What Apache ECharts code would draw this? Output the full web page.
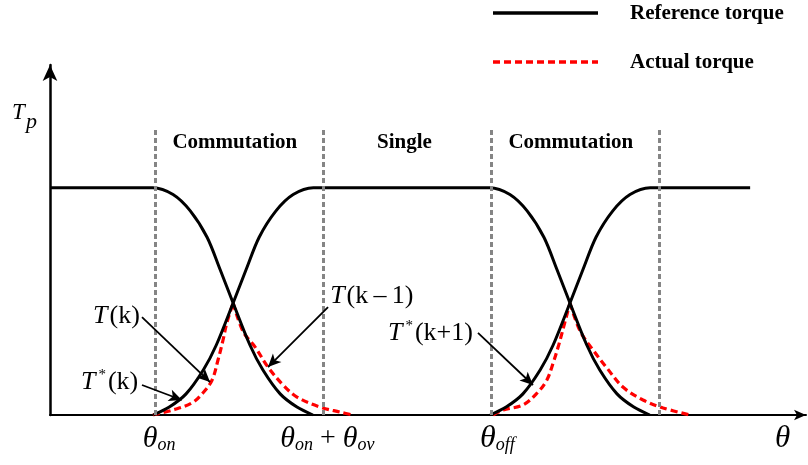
<!DOCTYPE html>
<html>
<head>
<meta charset="utf-8">
<script src="https://cdn.jsdelivr.net/npm/echarts@6/dist/echarts.min.js"></script>
<style>
  html, body { margin: 0; padding: 0; background: #ffffff; }
  #chart { width: 808px; height: 465px; }
</style>
</head>
<body>
<div id="chart"></div>
<script>
// Rotor angle in electrical degrees (x), phase torque normalised so that Tp = 1 (y).

// Reference torque of the outgoing phase T(k-1)
const refOutgoing = [
  [0, 1], [20, 1], [24.5, 1], [29.3, 0.97], [33.4, 0.898], [37.4, 0.782], [40.5, 0.64],
  [43.6, 0.493], [47.6, 0.308], [50.7, 0.198], [54.8, 0.093],
  [58.8, 0.035], [62.6, 0]
];
// Reference torque of the conducting phase T(k)
const refPhase = [
  [24.6, 0], [28.4, 0.035], [32.4, 0.093], [36.5, 0.198], [39.6, 0.308],
  [43.6, 0.493], [46.7, 0.64], [49.8, 0.782], [53.8, 0.898], [57.9, 0.97], [62.7, 1],
  [67, 1], [100, 1], [104.7, 1], [109.5, 0.97], [113.6, 0.898], [117.6, 0.782],
  [120.7, 0.64], [123.8, 0.493], [127.8, 0.308], [130.9, 0.198],
  [135.0, 0.093], [139.0, 0.035], [142.8, 0]
];
// Reference torque of the incoming phase T(k+1)
const refIncoming = [
  [104.8, 0], [108.6, 0.035], [112.6, 0.093], [116.7, 0.198], [119.8, 0.308],
  [123.8, 0.493], [126.9, 0.64], [130.0, 0.782], [134.0, 0.898],
  [138.1, 0.97], [142.9, 1], [147, 1], [166.7, 1]
];
// Actual torque during the first commutation: T*(k) build-up, then the T(k-1) tail
const actualRiseA = [
  [24.5, 0], [29.3, 0.022], [33.8, 0.053], [36.4, 0.097], [38.6, 0.154], [40.0, 0.242],
  [41.2, 0.33], [42.1, 0.405], [43.6, 0.493]
];
const actualFallA = [
  [43.6, 0.493], [46.0, 0.366], [48.8, 0.3], [51.9, 0.211], [55.5, 0.132], [58.8, 0.079],
  [64.3, 0.035], [69.0, 0.013], [72.1, 0]
];
// Actual torque during the second commutation: T*(k+1) build-up, then the T(k) tail
const actualRiseB = [
  [105.5, 0], [107.9, 0.022], [112.6, 0.044], [116.0, 0.097], [118.3, 0.154],
  [119.8, 0.229], [121.0, 0.3], [122.1, 0.374], [123.8, 0.493]
];
const actualFallB = [
  [123.8, 0.493], [126.2, 0.37], [129.3, 0.286], [132.6, 0.207], [136.4, 0.123],
  [141.2, 0.066], [146.0, 0.031], [152.4, 0]
];

// Region boundaries: θon, θon+θov, θoff, θoff+θov
const boundaryAngles = [25, 65, 105, 145];
const boundaryTop = 1.254;
const regionNames = ['Commutation', 'Single', 'Commutation'];
const regionCentres = [44, 84.4, 124];
const regionLevel = 1.197;

const legendNames = ['Reference torque', 'Actual torque'];

// Pointer arrows [from, to] and the labels they belong to
const pointers = [
  [[21.9, 0.431], [38.1, 0.145]],
  [[21.9, 0.132], [31.4, 0.066]],
  [[66.2, 0.475], [51.9, 0.211]],
  [[101.9, 0.361], [115.0, 0.132]]
];
const pointerLabels = [
  { text: '{i|T}{r|(k)}', at: [21.4, 0.436], align: 'right' },
  { text: '{i|T}{sup|*}{r|(k)}', at: [21.0, 0.145], align: 'right' },
  { text: '{i|T}{r|(k\u2009\u2013\u20091)}', at: [66.7, 0.524], align: 'left' },
  { text: '{i|T}{sup|*}{r|(k+1)}', at: [100.7, 0.361], align: 'right' }
];

// Angle labels under the axis: left edge of each label (in degrees)
const angleLabels = [
  { text: '{th|\u03b8}{sub|on}', left: 22.1, size: 30 },
  { text: '{th|\u03b8}{sub|on}{op| + }{th|\u03b8}{sub|ov}', left: 54.8, size: 30 },
  { text: '{th|\u03b8}{sub|off}', left: 102.4, size: 32 },
  { text: '{th|\u03b8}', left: 172.6, size: 31 }
];

const SERIF = '"Liberation Serif", "Times New Roman", serif';

const chart = echarts.init(document.getElementById('chart'), null, { renderer: 'canvas' });

function refSeries(data) {
  return {
    name: legendNames[0], type: 'line', data: data, smooth: 0.3, symbol: 'none',
    lineStyle: { color: '#000000', width: 3 }, itemStyle: { color: '#000000' },
    z: 4, silent: true
  };
}
function actualSeries(data) {
  return {
    name: legendNames[1], type: 'line', data: data, smooth: 0.35, symbol: 'none',
    lineStyle: { color: '#ff0000', width: 3.2, type: [7, 4] }, itemStyle: { color: '#ff0000' },
    z: 3, silent: true
  };
}

const option = {
  animation: false,
  backgroundColor: '#ffffff',
  grid: { left: 50, right: 2, top: 65, bottom: 50 },
  xAxis: {
    type: 'value', min: 0, max: 180,
    axisLine: {
      onZero: false, symbol: ['none', 'arrow'], symbolSize: [8, 12],
      lineStyle: { color: '#000000', width: 2 }
    },
    axisTick: { show: false }, axisLabel: { show: false }, splitLine: { show: false }
  },
  yAxis: {
    type: 'value', min: 0, max: 1.54,
    axisLine: {
      show: true, symbol: ['none', 'arrow'], symbolSize: [11, 16],
      lineStyle: { color: '#000000', width: 2.5 }
    },
    axisTick: { show: false }, axisLabel: { show: false }, splitLine: { show: false }
  },
  series: [
    {
      type: 'line', data: [], silent: true, z: 1,
      markLine: {
        silent: true, symbol: 'none', label: { show: false },
        lineStyle: { color: '#858585', width: 3, type: [5, 3] },
        data: boundaryAngles.map(a => [{ coord: [a, 0] }, { coord: [a, boundaryTop] }])
      }
    },
    actualSeries(actualRiseA), actualSeries(actualFallA),
    actualSeries(actualRiseB), actualSeries(actualFallB),
    refSeries(refOutgoing), refSeries(refPhase), refSeries(refIncoming),
    {
      type: 'line', data: [], silent: true, z: 5,
      markLine: {
        silent: true, symbol: ['none', 'arrow'], symbolSize: [9, 13], label: { show: false },
        lineStyle: { color: '#000000', width: 1.8, type: 'solid' },
        data: pointers.map(p => [{ coord: p[0] }, { coord: p[1] }])
      }
    }
  ]
};

chart.setOption(option);

// Text annotations positioned from data coordinates
const toPx = (pt) => chart.convertToPixel({ gridIndex: 0 }, pt);
const graphics = [];

// Legend: line samples and bold captions
const legendRows = [
  { name: legendNames[0], y: 13, stroke: '#000000', dash: null, width: 3.5 },
  { name: legendNames[1], y: 62, stroke: '#ff0000', dash: [7, 4], width: 3.5 }
];
legendRows.forEach(row => {
  graphics.push({
    type: 'line', silent: true,
    shape: { x1: 493, y1: row.y, x2: 598, y2: row.y },
    style: { stroke: row.stroke, lineWidth: row.width, lineDash: row.dash }
  });
  graphics.push({
    type: 'text', x: 630, y: row.y + 1, silent: true,
    style: {
      text: row.name, fill: '#000000', font: 'bold 21px ' + SERIF,
      align: 'left', verticalAlign: 'middle', textAlign: 'left', textVerticalAlign: 'middle'
    }
  });
});

regionNames.forEach((name, i) => {
  const p = toPx([regionCentres[i], regionLevel]);
  graphics.push({
    type: 'text', x: p[0], y: p[1], silent: true,
    style: {
      text: name, fill: '#000000', font: 'bold 21px ' + SERIF,
      align: 'center', verticalAlign: 'middle', textAlign: 'center', textVerticalAlign: 'middle'
    }
  });
});

const labelRich = {
  i: { fontFamily: SERIF, fontStyle: 'italic', fontSize: 26, lineHeight: 28, padding: [0, 2, 0, 0], fill: '#000' },
  r: { fontFamily: SERIF, fontSize: 26, lineHeight: 28, fill: '#000' },
  sup: { fontFamily: SERIF, fontSize: 15, lineHeight: 14, verticalAlign: 'top', padding: [0, 2, 0, 1], fill: '#000' }
};
pointerLabels.forEach(l => {
  const p = toPx(l.at);
  graphics.push({
    type: 'text', x: p[0], y: p[1], silent: true,
    style: {
      text: l.text, rich: labelRich, fill: '#000000',
      align: l.align, verticalAlign: 'middle', textAlign: l.align, textVerticalAlign: 'middle'
    }
  });
});

angleLabels.forEach(l => {
  const p = toPx([l.left, 0]);
  const rich = {
    th: { fontFamily: SERIF, fontStyle: 'italic', fontSize: l.size, lineHeight: 30, fill: '#000' },
    sub: { fontFamily: SERIF, fontStyle: 'italic', fontSize: 18, lineHeight: 15, verticalAlign: 'bottom', fill: '#000' },
    op: { fontFamily: SERIF, fontSize: 28, lineHeight: 30, fill: '#000' }
  };
  graphics.push({
    type: 'text', x: p[0], y: p[1] + 24, silent: true,
    style: {
      text: l.text, rich: rich, fill: '#000000',
      align: 'left', verticalAlign: 'middle', textAlign: 'left', textVerticalAlign: 'middle'
    }
  });
});

// Torque axis name Tp (italic T with a lowered p)
graphics.push({
  type: 'text', x: 12, y: 113, silent: true,
  style: {
    text: 'T', fill: '#000000', font: 'italic 23px ' + SERIF,
    align: 'left', verticalAlign: 'middle', textAlign: 'left', textVerticalAlign: 'middle'
  }
});
graphics.push({
  type: 'text', x: 26, y: 122, silent: true,
  style: {
    text: 'p', fill: '#000000', font: 'italic 22px ' + SERIF,
    align: 'left', verticalAlign: 'middle', textAlign: 'left', textVerticalAlign: 'middle'
  }
});

chart.setOption({ graphic: { elements: graphics } });
</script>
</body>
</html>
